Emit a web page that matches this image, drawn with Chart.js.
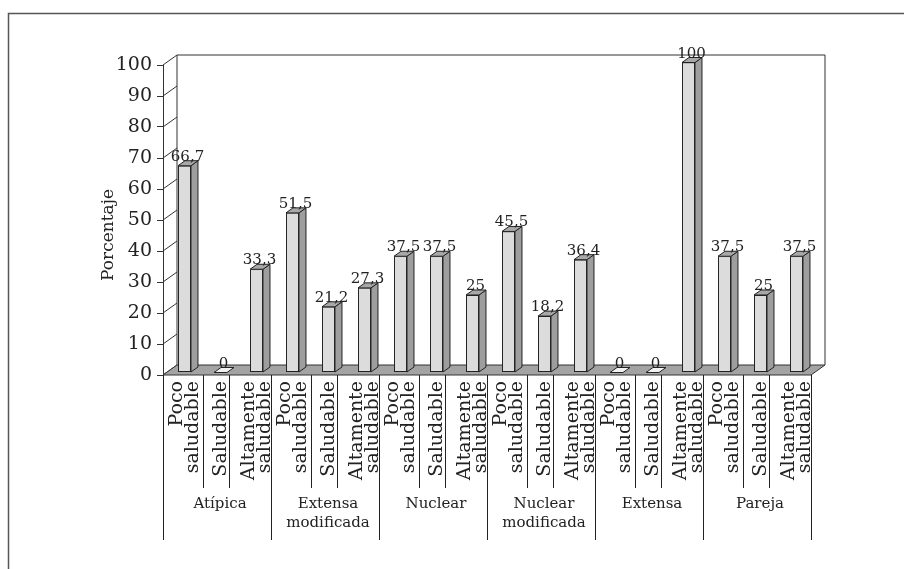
<!DOCTYPE html>
<html>
<head>
<meta charset="utf-8">
<script src="https://cdn.jsdelivr.net/npm/chart.js@4.4.0/dist/chart.umd.min.js"></script>
<style>
  html, body { margin: 0; padding: 0; background: #fff; }
</style>
</head>
<body>
<canvas id="grafico" width="904" height="569"></canvas>
<script>
// datos
const tiposFamilia = [['Atípica'], ['Extensa', 'modificada'], ['Nuclear'], ['Nuclear', 'modificada'], ['Extensa'], ['Pareja']];
const niveles = [['Poco', 'saludable'], ['Saludable'], ['Altamente', 'saludable']];
const atipica = [66.7, 0, 33.3];
const extensaModificada = [51.5, 21.2, 27.3];
const nuclear = [37.5, 37.5, 25];
const nuclearModificada = [45.5, 18.2, 36.4];
const extensa = [0, 0, 100];
const pareja = [37.5, 25, 37.5];
const ticksY = ['0', '10', '20', '30', '40', '50', '60', '70', '80', '90', '100'];

const porcentajes = [atipica, extensaModificada, nuclear, nuclearModificada, extensa, pareja].flat();
const etiquetas = tiposFamilia.flatMap(() => niveles);

const fuente = '"DejaVu Serif", serif';
const colorTexto = '#222';
const fondoX = 14, fondoY = -10;   // profundidad de la pared
const barraX = 3.5, barraY = -2.5; // desplazamiento de la barra
const ladoX = 7, ladoY = -5;       // profundidad de la barra

function poligono(ctx, pts, relleno) {
    ctx.beginPath();
    ctx.moveTo(pts[0][0], pts[0][1]);
    for (let i = 1; i < pts.length; i++) ctx.lineTo(pts[i][0], pts[i][1]);
    ctx.closePath();
    if (relleno) { ctx.fillStyle = relleno; ctx.fill(); }
    ctx.stroke();
}

const efecto3D = {
    id: 'efecto3D',
    beforeDraw(chart) {
        const ctx = chart.ctx;
        ctx.save();
        ctx.fillStyle = '#fff';
        ctx.fillRect(0, 0, chart.width, chart.height);
        ctx.strokeStyle = '#555';
        ctx.lineWidth = 1.5;
        ctx.strokeRect(8.5, 13.5, 960, 640);
        ctx.restore();
    },
    beforeDatasetsDraw(chart) {
        const { ctx, chartArea: a } = chart;
        const y = chart.scales.y;
        ctx.save();
        ctx.strokeStyle = '#333';
        ctx.lineWidth = 1;
        // pared del fondo
        ctx.beginPath();
        ctx.moveTo(a.left + fondoX, a.bottom + fondoY);
        ctx.lineTo(a.left + fondoX, a.top + fondoY);
        ctx.lineTo(a.right + fondoX, a.top + fondoY);
        ctx.lineTo(a.right + fondoX, a.bottom + fondoY);
        ctx.stroke();
        // diagonales de las marcas
        y.ticks.forEach(t => {
            const py = y.getPixelForValue(t.value);
            ctx.beginPath();
            ctx.moveTo(a.left, py);
            ctx.lineTo(a.left + fondoX, py + fondoY);
            ctx.stroke();
        });
        // piso
        poligono(ctx, [[a.left, a.bottom], [a.right, a.bottom], [a.right + fondoX, a.bottom + fondoY], [a.left + fondoX, a.bottom + fondoY]], '#a3a3a3');
        ctx.restore();
        ctx.save();
        ctx.translate(barraX, barraY);
    },
    afterDatasetsDraw(chart) {
        const ctx = chart.ctx;
        const meta = chart.getDatasetMeta(0);
        ctx.strokeStyle = '#222';
        ctx.lineWidth = 1;
        meta.data.forEach((bar, i) => {
            const izq = bar.x - bar.width / 2, der = bar.x + bar.width / 2;
            const arriba = bar.y, abajo = bar.base;
            if (abajo - arriba > 0.5) {
                poligono(ctx, [[der, abajo], [der + ladoX, abajo + ladoY], [der + ladoX, arriba + ladoY], [der, arriba]], '#9e9e9e');
            }
            const vacio = porcentajes[i] === 0;
            poligono(ctx, [[izq, arriba], [der, arriba], [der + ladoX, arriba + ladoY], [izq + ladoX, arriba + ladoY]], vacio ? '#f2f2f2' : '#a8a8a8');
            // etiqueta de valor
            ctx.fillStyle = colorTexto;
            ctx.font = '15px ' + fuente;
            ctx.textAlign = 'center';
            ctx.textBaseline = 'alphabetic';
            ctx.fillText(String(porcentajes[i]).replace('.', ','), bar.x + 3, arriba - 5);
        });
        ctx.restore();
    },
    afterDraw(chart) {
        const { ctx, chartArea: a } = chart;
        const x = chart.scales.x;
        const n = etiquetas.length;
        const ancho = (a.right - a.left) / n;
        ctx.save();
        ctx.fillStyle = colorTexto;
        ctx.strokeStyle = '#222';
        ctx.lineWidth = 1;

        // etiquetas de nivel (rotadas)
        ctx.font = '19px ' + fuente;
        etiquetas.forEach((lineas, i) => {
            const cx = x.getPixelForValue(i);
            ctx.save();
            ctx.translate(cx, a.bottom + 6);
            ctx.rotate(-Math.PI / 2);
            ctx.textAlign = 'right';
            ctx.textBaseline = 'alphabetic';
            lineas.forEach((t, k) => {
                ctx.fillText(t, 0, 9 + (k - (lineas.length - 1) / 2) * 16);
            });
            ctx.restore();
        });

        // separadores
        const porGrupo = niveles.length;
        for (let i = 0; i <= n; i++) {
            let px = a.left + i * ancho;
            const esGrupo = i % porGrupo === 0;
            if (!esGrupo) {
                const nIzq = etiquetas[i - 1].length, nDer = etiquetas[i].length;
                px += (nIzq - nDer) * 5 - 1;
            }
            ctx.beginPath();
            ctx.moveTo(Math.round(px) + 0.5, a.bottom);
            ctx.lineTo(Math.round(px) + 0.5, esGrupo ? a.bottom + 165 : a.bottom + 113);
            ctx.stroke();
        }

        // etiquetas de grupo
        ctx.font = '15px ' + fuente;
        ctx.textAlign = 'center';
        ctx.textBaseline = 'alphabetic';
        tiposFamilia.forEach((lineas, g) => {
            const cx = a.left + (g + 0.5) * ancho * porGrupo + 3;
            lineas.forEach((t, k) => ctx.fillText(t, cx, a.bottom + 133 + k * 19));
        });

        // titulo del eje
        ctx.save();
        ctx.font = '17px ' + fuente;
        ctx.translate(113, (a.top + a.bottom) / 2 + 15);
        ctx.rotate(-Math.PI / 2);
        ctx.textAlign = 'center';
        ctx.fillText('Porcentaje', 0, 0);
        ctx.restore();

        ctx.restore();
    }
};

const ctx = document.getElementById('grafico').getContext('2d');
new Chart(ctx, {
    type: 'bar',
    data: {
        labels: etiquetas,
        datasets: [{
            label: 'Porcentaje',
            data: porcentajes,
            backgroundColor: '#dcdcdc',
            borderColor: '#222',
            borderWidth: 1,
            borderSkipped: false,
            barPercentage: 0.36,
            categoryPercentage: 1,
            clip: false
        }]
    },
    options: {
        responsive: false,
        devicePixelRatio: 1,
        animation: false,
        layout: { padding: { left: 0, right: 93, top: 65, bottom: 194 } },
        plugins: { legend: { display: false }, tooltip: { enabled: false } },
        scales: {
            x: { display: false },
            y: {
                min: 0,
                max: 100,
                afterFit: (scale) => { scale.width = 163; },
                ticks: {
                    stepSize: 10,
                    padding: 5,
                    color: colorTexto,
                    font: { family: fuente, size: 19 },
                    callback: (v, i) => ticksY[i]
                },
                grid: { drawOnChartArea: false, drawTicks: true, tickLength: 6, color: '#333' },
                border: { display: true, color: '#333', width: 1 }
            }
        }
    },
    plugins: [efecto3D]
});
</script>
</body>
</html>
